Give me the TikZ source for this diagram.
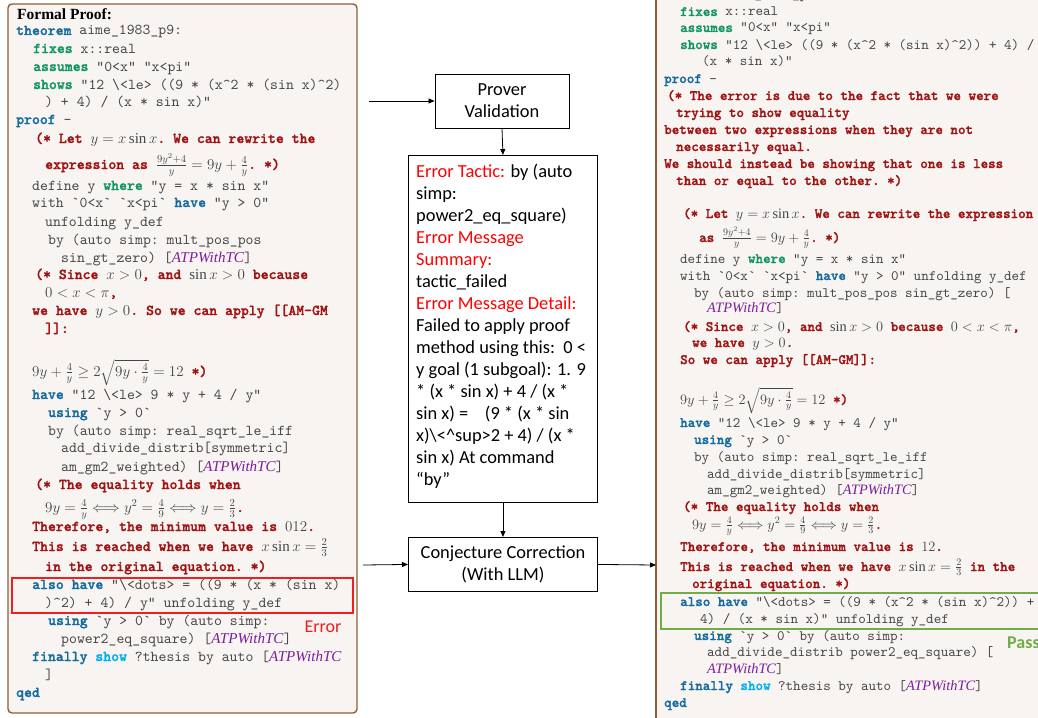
\RequirePackage{fix-cm}
\documentclass[tikz,border=0pt]{standalone}
\usepackage{amsmath}
\usepackage{fontspec}
\setmainfont{Liberation Serif}
\setmonofont{lmmono10-regular}[Extension=.otf, BoldFont=lmmonolt10-bold, BoldFeatures={FakeBold=1.5}]
\newfontfamily\carlito{Carlito}
\usetikzlibrary{arrows.meta}
\definecolor{codegray}{RGB}{70,70,70}
\definecolor{kwblue}{RGB}{22,108,160}
\definecolor{kwgreen}{RGB}{20,150,100}
\definecolor{kwcyan}{RGB}{0,176,240}
\definecolor{cmred}{RGB}{160,20,20}
\definecolor{atppurple}{RGB}{125,30,155}
\definecolor{panelbg}{RGB}{247,244,241}
\definecolor{panelbr}{RGB}{140,95,55}
\definecolor{errred}{RGB}{240,30,30}
\definecolor{passgreen}{RGB}{112,173,71}
\newcommand\kw[1]{{\color{kwblue}\bfseries#1}}
\newcommand\kg[1]{{\color{kwgreen}\bfseries#1}}
\newcommand\ks[1]{{\color{kwcyan}\bfseries#1}}
\newcommand\cmt[1]{{\color{cmred}\bfseries#1}}
\newcommand\atp{{\color{atppurple}\rmfamily\itshape ATPWithTC}}
\newcommand\bq{\textasciigrave}
\newcommand\caret{\textasciicircum}
\newcommand\bsl{\textbackslash}
\newcommand\er[1]{{\color{red}#1}}
\newcommand\Lc[4]{\node[cl] (#1) at (#2,#3) {#4};}
\newcommand\Rc[4]{\node[cr] (#1) at (#2,#3) {#4};}
\newcommand\eqv{\Longleftrightarrow}
\tikzset{
  cl/.style={anchor=base west, inner sep=0pt, text=codegray, font=\ttfamily\fontsize{15.05}{17}\selectfont},
  cr/.style={anchor=base west, inner sep=0pt, text=codegray, font=\ttfamily\fontsize{14.35}{16}\selectfont},
  box/.style={draw=black, line width=0.9pt, fill=white, inner sep=0pt, align=center, font=\carlito\fontsize{18.4}{22}\selectfont},
  arr/.style={-{Triangle[length=6pt,width=5pt]}, line width=0.8pt},
  panel/.style={fill=panelbg, draw=panelbr, line width=1.4pt}
}
\begin{document}
\begin{tikzpicture}[x=1pt,y=-1pt]
\useasboundingbox (0,0) rectangle (1038,717);
\clip (0,0) rectangle (1038,717);
\fill[white] (0,0) rectangle (1038,717);
% left panel
\path[panel, rounded corners=4pt] (8,4) rectangle (357,713);
\node[anchor=base west, inner sep=0pt, font=\rmfamily\bfseries\fontsize{15.5}{17}\selectfont] (title) at (17,20) {Formal Proof:};
\Lc{a1}{16}{35}{\kw{theorem} aime\_1983\_p9:}
\Lc{a2}{33}{53}{\kg{fixes} x::real}
\Lc{a3}{33}{71}{\kg{assumes} "0<x" "x<pi"}
\Lc{a4}{33}{89}{\kg{shows} "12 \bsl<le> ((9 * (x\caret2 * (sin x)\caret2)}
\Lc{a5}{45}{106}{) + 4) / (x * sin x)"}
\Lc{a6}{16}{124}{\kw{proof} -}
\Lc{a7}{35}{143}{\cmt{(* Let }$y=x\sin x$\cmt{. We can rewrite the}}
\Lc{a8}{45}{169}{\cmt{expression as }$\frac{9y^2+4}{y}=9y+\frac{4}{y}$\cmt{. *)}}
\Lc{a9}{32}{190}{define y \kg{where} "y = x * sin x"}
\Lc{a10}{32}{207}{with \bq0<x\bq{} \bq x<pi\bq{} \kw{have} "y > 0"}
\Lc{a11}{45}{226}{unfolding y\_def}
\Lc{a12}{48}{244}{by (auto simp: mult\_pos\_pos}
\Lc{a13}{61}{262}{sin\_gt\_zero) [\atp]}
\Lc{a14}{35}{279}{\cmt{(* Since }$x>0$\cmt{, and }$\sin x>0$\cmt{ because}}
\Lc{a15}{45}{297}{$0<x<\pi$\cmt{,}}
\Lc{a16}{32}{315}{\cmt{we have }$y>0$\cmt{. So we can apply [[AM-GM}}
\Lc{a17}{45}{333}{\cmt{]]:}}
\Lc{a18}{32}{376}{$9y+\frac{4}{y}\ge 2\sqrt{9y\cdot\frac{4}{y}}=12$ \cmt{*)}}
\Lc{a19}{32}{399}{\kw{have} "12 \bsl<le> 9 * y + 4 / y"}
\Lc{a20}{48}{417}{\kw{using} \bq y > 0\bq}
\Lc{a21}{48}{435}{by (auto simp: real\_sqrt\_le\_iff}
\Lc{a22}{61}{452}{add\_divide\_distrib[symmetric]}
\Lc{a23}{61}{471}{am\_gm2\_weighted) [\atp]}
\Lc{a24}{35}{489}{\cmt{(* The equality holds when}}
\Lc{a25}{45}{512}{$9y=\frac{4}{y}\eqv y^2=\frac{4}{9}\eqv y=\frac{2}{3}$\cmt{.}}
\Lc{a26}{32}{531}{\cmt{Therefore, the minimum value is }$012$\cmt{.}}
\Lc{a27}{32}{551}{\cmt{This is reached when we have }$x\sin x=\frac{2}{3}$}
\Lc{a28}{45}{571}{\cmt{in the original equation. *)}}
\Lc{a29}{32}{589}{\kw{also} \kw{have} "\bsl<dots> = ((9 * (x * (sin x)}
\Lc{a30}{45}{607}{)\caret2) + 4) / y" unfolding y\_def}
\Lc{a31}{48}{625}{\kw{using} \bq y > 0\bq{} by (auto simp:}
\Lc{a32}{61}{643}{power2\_eq\_square) [\atp]}
\Lc{a33}{32}{661}{\kw{finally} \ks{show} ?thesis by auto [\atp}
\Lc{a34}{45}{679}{]}
\Lc{a35}{16}{697}{\kw{qed}}
\node[draw=errred, line width=2.4pt, minimum width=341pt, minimum height=35pt, anchor=north west, inner sep=0pt] (errbox) at (11,577) {};
\node[inner sep=0pt, text=errred, font=\carlito\fontsize{18}{20}\selectfont] (errlab) at (323,627) {Error};
% right panel
\path[panel] (656,-10) rectangle (1060,730);
\Rc{b0}{664}{-1}{\kw{theorem} aime\_1983\_p9:}
\Rc{b1}{680}{16}{\kg{fixes} x::real}
\Rc{b2}{680}{32}{\kg{assumes} "0<x" "x<pi"}
\Rc{b3}{680}{49}{\kg{shows} "12 \bsl<le> ((9 * (x\caret2 * (sin x)\caret2)) + 4) /}
\Rc{b4}{702}{66}{(x * sin x)"}
\Rc{b5}{664}{83}{\kw{proof} -}
\Rc{b6}{667}{100}{\cmt{(* The error is due to the fact that we were}}
\Rc{b7}{676}{117}{\cmt{trying to show equality}}
\Rc{b8}{664}{134}{\cmt{between two expressions when they are not}}
\Rc{b9}{676}{151}{\cmt{necessarily equal.}}
\Rc{b10}{664}{168}{\cmt{We should instead be showing that one is less}}
\Rc{b11}{676}{185}{\cmt{than or equal to the other. *)}}
\Rc{b12}{683}{218}{\cmt{(* Let }$y=x\sin x$\cmt{. We can rewrite the expression}}
\Rc{b13}{699}{242}{\cmt{as }$\frac{9y^2+4}{y}=9y+\frac{4}{y}$\cmt{. *)}}
\Rc{b14}{680}{263}{define y \kg{where} "y = x * sin x"}
\Rc{b15}{680}{280}{with \bq0<x\bq{} \bq x<pi\bq{} \kw{have} "y > 0" unfolding y\_def}
\Rc{b16}{694}{297}{by (auto simp: mult\_pos\_pos sin\_gt\_zero) [}
\Rc{b17}{707}{312}{\atp]}
\Rc{b18}{683}{331}{\cmt{(* Since }$x>0$\cmt{, and }$\sin x>0$\cmt{ because }$0<x<\pi$\cmt{,}}
\Rc{b19}{692}{347}{\cmt{we have }$y>0$\cmt{.}}
\Rc{b20}{680}{364}{\cmt{So we can apply [[AM-GM]]:}}
\Rc{b21}{680}{404}{$9y+\frac{4}{y}\ge 2\sqrt{9y\cdot\frac{4}{y}}=12$ \cmt{*)}}
\Rc{b22}{680}{427}{\kw{have} "12 \bsl<le> 9 * y + 4 / y"}
\Rc{b23}{694}{444}{\kw{using} \bq y > 0\bq}
\Rc{b24}{694}{461}{by (auto simp: real\_sqrt\_le\_iff}
\Rc{b25}{707}{478}{add\_divide\_distrib[symmetric]}
\Rc{b26}{707}{494}{am\_gm2\_weighted) [\atp]}
\Rc{b27}{683}{511}{\cmt{(* The equality holds when}}
\Rc{b28}{692}{529}{$9y=\frac{4}{y}\eqv y^2=\frac{4}{9}\eqv y=\frac{2}{3}$\cmt{.}}
\Rc{b29}{680}{551}{\cmt{Therefore, the minimum value is }$12$\cmt{.}}
\Rc{b30}{680}{571}{\cmt{This is reached when we have }$x\sin x=\frac{2}{3}$\cmt{ in the}}
\Rc{b31}{692}{588}{\cmt{original equation. *)}}
\Rc{b32}{680}{606}{\kw{also} \kw{have} "\bsl<dots> = ((9 * (x\caret2 * (sin x)\caret2)) +}
\Rc{b33}{700}{623}{4) / (x * sin x)" unfolding y\_def}
\Rc{b34}{694}{640}{\kw{using} \bq y > 0\bq{} by (auto simp:}
\Rc{b35}{707}{656}{add\_divide\_distrib power2\_eq\_square) [}
\Rc{b36}{707}{673}{\atp]}
\Rc{b37}{680}{690}{\kw{finally} \ks{show} ?thesis by auto [\atp]}
\Rc{b38}{664}{707}{\kw{qed}}
\node[draw=passgreen, line width=2.4pt, minimum width=390pt, minimum height=36pt, anchor=north west, inner sep=0pt] (passbox) at (660,592) {};
\node[anchor=west, inner sep=0pt, text=passgreen, font=\carlito\bfseries\fontsize{18}{20}\selectfont] (passlab) at (1007,643) {Pass};
% middle flow
\node[box, minimum width=134pt, minimum height=54pt] (pv) at (502,101) {Prover\\Validation};
\node[box, minimum width=189pt, minimum height=347pt, anchor=north west] (err) at (408,155) {};
\node[anchor=north west, inner sep=0pt, align=left, font=\carlito\fontsize{18.4}{22}\selectfont] (errtxt) at (416,164) {\er{Error Tactic:} by (auto\\simp:\\power2\_eq\_square)\\\er{Error Message}\\\er{Summary:}\\tactic\_failed\\\er{Error Message Detail:}\\Failed to apply proof\\method using this:\ \ 0 <\\y goal (1 subgoal): 1. 9\\* (x * sin x) + 4 / (x *\\sin x) =\ \ \ \ (9 * (x * sin\\x)\bsl<\caret sup>2 + 4) / (x *\\sin x) At command\\“by”};
\node[box, minimum width=189pt, minimum height=54pt, anchor=north west] (cc) at (408,537) {Conjecture Correction\\(With LLM)};
\coordinate (inA) at (369,101);
\coordinate (inB) at (363,565);
\coordinate (outB) at (656,565);
\draw[arr] (inA) -- (pv.west);
\draw[arr] (pv.south) -- (err.north);
\draw[arr] (err.south) -- (cc.north);
\draw[arr] (inB) -- (cc.west);
\draw[arr] (cc.east) -- (outB);
\end{tikzpicture}
\end{document}
